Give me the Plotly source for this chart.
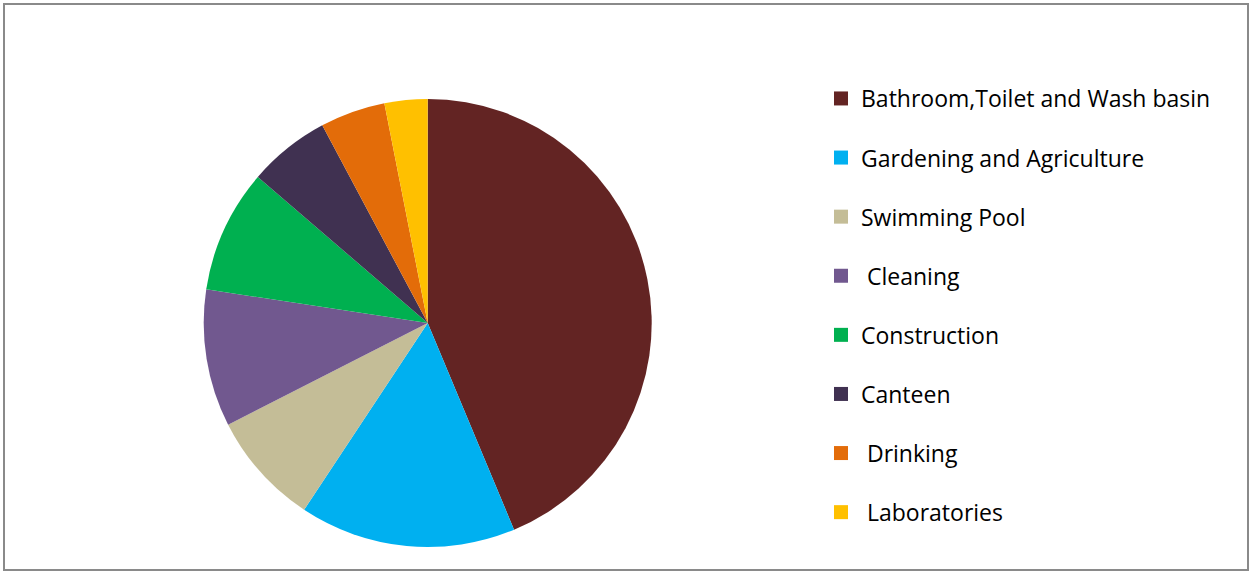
import plotly.graph_objects as go

categories = ["Bathroom,Toilet and Wash basin", "Gardening and Agriculture", "Swimming Pool",
              " Cleaning", "Construction", "Canteen", " Drinking", " Laboratories"]
values = [43.7, 15.6, 8.2, 9.9, 8.9, 5.9, 4.7, 3.1]
colors = ["#632423", "#00B0F0", "#C4BD97", "#71588F", "#00B050", "#403151", "#E36C09", "#FFC000"]

W, H = 1251, 572
cx, cy, r = 427.7, 323, 224

fig = go.Figure()
fig.add_trace(go.Pie(
    labels=categories, values=values, sort=False, direction="clockwise", rotation=0,
    marker=dict(colors=colors, line=dict(width=0)), textinfo="none", showlegend=False,
    hoverinfo="label+percent",
    domain=dict(x=[(cx - r) / W, (cx + r) / W], y=[1 - (cy + r) / H, 1 - (cy - r) / H]),
))
for i, (lab, col) in enumerate(zip(categories, colors)):
    fig.add_trace(go.Scatter(
        x=[None], y=[None], mode="markers", name=lab, legendgroup=f"g{i}",
        marker=dict(symbol="square", size=14, color=col), hoverinfo="skip",
    ))

fig.update_layout(
    width=W, height=H, margin=dict(l=0, r=0, t=0, b=0),
    paper_bgcolor="white", plot_bgcolor="white",
    xaxis=dict(visible=False, domain=[0.99, 1]), yaxis=dict(visible=False, domain=[0.99, 1]),
    font=dict(family="Open Sans", color="#000000"),
    legend=dict(x=821 / W, y=1 - 77 / H, xanchor="left", yanchor="top",
                font=dict(size=23, family="Open Sans", color="#000000"),
                tracegroupgap=26.2, bgcolor="rgba(0,0,0,0)", itemclick=False),
    shapes=[dict(type="rect", xref="paper", yref="paper",
                 x0=4 / W, x1=1248 / W, y0=1 - 570 / H, y1=1 - 4 / H,
                 line=dict(color="#8a8a8a", width=2), fillcolor="rgba(0,0,0,0)")],
)
fig.write_html("out.html")
